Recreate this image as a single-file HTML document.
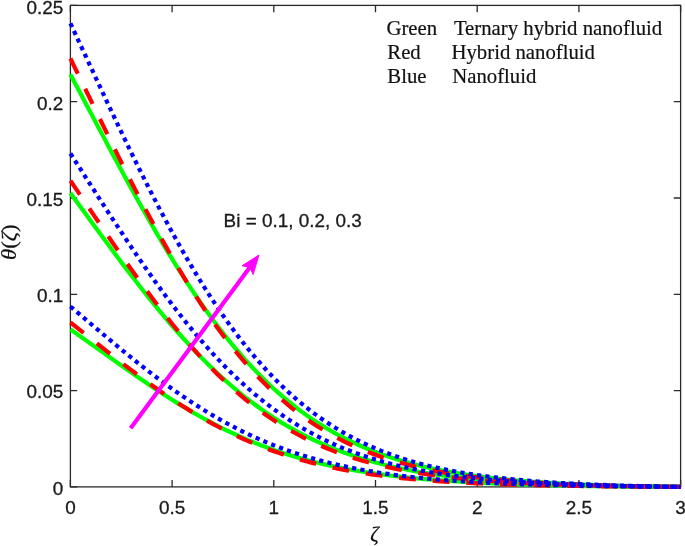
<!DOCTYPE html>
<html><head><meta charset="utf-8"><title>Plot</title>
<style>
html,body{margin:0;padding:0;background:#fff;}
svg{display:block;}
.sans{font-family:"Liberation Sans",sans-serif;font-size:18.9px;fill:#1a1a1a;stroke:#1a1a1a;stroke-width:0.3px;}
.serif{font-family:"Liberation Serif",serif;font-size:20.75px;fill:#111;stroke:#111;stroke-width:0.2px;}
</style></head>
<body>
<svg width="685" height="546" viewBox="0 0 685 546">
<rect width="685" height="546" fill="#fff"/>
<g fill="none" stroke="#2a2a2a" stroke-width="1.3">
<rect x="70.4" y="5.4" width="610.2" height="481.5"/>
<path d="M70.40 486.9 v-6.8 M70.40 5.4 v6.8 M172.10 486.9 v-6.8 M172.10 5.4 v6.8 M273.80 486.9 v-6.8 M273.80 5.4 v6.8 M375.50 486.9 v-6.8 M375.50 5.4 v6.8 M477.20 486.9 v-6.8 M477.20 5.4 v6.8 M578.90 486.9 v-6.8 M578.90 5.4 v6.8 M680.60 486.9 v-6.8 M680.60 5.4 v6.8 M70.4 486.90 h6.8 M680.6 486.90 h-6.8 M70.4 390.60 h6.8 M680.6 390.60 h-6.8 M70.4 294.30 h6.8 M680.6 294.30 h-6.8 M70.4 198.00 h6.8 M680.6 198.00 h-6.8 M70.4 101.70 h6.8 M680.6 101.70 h-6.8 M70.4 5.40 h6.8 M680.6 5.40 h-6.8"/>
</g>
<g fill="none" stroke-width="4.2" stroke-linejoin="round">
<path d="M70.40 329.50 L74.47 332.31 L78.54 335.14 L82.60 337.99 L86.67 340.86 L90.74 343.73 L94.81 346.62 L98.88 349.51 L102.94 352.41 L107.01 355.31 L111.08 358.21 L115.15 361.11 L119.22 364.00 L123.28 366.88 L127.35 369.74 L131.42 372.60 L135.49 375.43 L139.56 378.25 L143.62 381.04 L147.69 383.81 L151.76 386.56 L155.83 389.27 L159.90 391.96 L163.96 394.61 L168.03 397.23 L172.10 399.81 L176.17 402.36 L180.24 404.86 L184.30 407.33 L188.37 409.75 L192.44 412.13 L196.51 414.47 L200.58 416.76 L204.64 419.01 L208.71 421.21 L212.78 423.36 L216.85 425.46 L220.92 427.52 L224.98 429.53 L229.05 431.49 L233.12 433.40 L237.19 435.26 L241.26 437.08 L245.32 438.84 L249.39 440.56 L253.46 442.23 L257.53 443.86 L261.60 445.43 L265.66 446.96 L269.73 448.45 L273.80 449.88 L277.87 451.28 L281.94 452.63 L286.00 453.94 L290.07 455.20 L294.14 456.43 L298.21 457.61 L302.28 458.75 L306.34 459.86 L310.41 460.92 L314.48 461.95 L318.55 462.95 L322.62 463.90 L326.68 464.83 L330.75 465.72 L334.82 466.58 L338.89 467.41 L342.96 468.20 L347.02 468.97 L351.09 469.71 L355.16 470.42 L359.23 471.10 L363.30 471.76 L367.36 472.39 L371.43 473.00 L375.50 473.59 L379.57 474.15 L383.64 474.69 L387.70 475.21 L391.77 475.71 L395.84 476.19 L399.91 476.65 L403.98 477.10 L408.04 477.52 L412.11 477.93 L416.18 478.32 L420.25 478.70 L424.32 479.06 L428.38 479.41 L432.45 479.74 L436.52 480.07 L440.59 480.37 L444.66 480.67 L448.72 480.95 L452.79 481.22 L456.86 481.49 L460.93 481.74 L465.00 481.98 L469.06 482.21 L473.13 482.43 L477.20 482.65 L481.27 482.85 L485.34 483.05 L489.40 483.24 L493.47 483.42 L497.54 483.59 L501.61 483.76 L505.68 483.92 L509.74 484.07 L513.81 484.22 L517.88 484.36 L521.95 484.50 L526.02 484.63 L530.08 484.75 L534.15 484.87 L538.22 484.99 L542.29 485.10 L546.36 485.20 L550.42 485.30 L554.49 485.40 L558.56 485.49 L562.63 485.58 L566.70 485.66 L570.76 485.74 L574.83 485.82 L578.90 485.90 L582.97 485.97 L587.04 486.03 L591.10 486.10 L595.17 486.16 L599.24 486.22 L603.31 486.27 L607.38 486.32 L611.44 486.37 L615.51 486.42 L619.58 486.47 L623.65 486.51 L627.72 486.55 L631.78 486.59 L635.85 486.62 L639.92 486.66 L643.99 486.69 L648.06 486.72 L652.12 486.75 L656.19 486.77 L660.26 486.80 L664.33 486.82 L668.40 486.84 L672.46 486.86 L676.53 486.88 L680.60 486.90" stroke="#00ff00"/>
<path d="M70.40 193.10 L74.47 198.66 L78.54 204.22 L82.60 209.79 L86.67 215.36 L90.74 220.93 L94.81 226.49 L98.88 232.04 L102.94 237.58 L107.01 243.09 L111.08 248.59 L115.15 254.05 L119.22 259.48 L123.28 264.88 L127.35 270.24 L131.42 275.56 L135.49 280.84 L139.56 286.06 L143.62 291.24 L147.69 296.36 L151.76 301.42 L155.83 306.42 L159.90 311.36 L163.96 316.23 L168.03 321.03 L172.10 325.76 L176.17 330.42 L180.24 335.01 L184.30 339.52 L188.37 343.95 L192.44 348.31 L196.51 352.58 L200.58 356.77 L204.64 360.88 L208.71 364.90 L212.78 368.84 L216.85 372.70 L220.92 376.47 L224.98 380.15 L229.05 383.75 L233.12 387.26 L237.19 390.69 L241.26 394.03 L245.32 397.28 L249.39 400.45 L253.46 403.54 L257.53 406.54 L261.60 409.46 L265.66 412.30 L269.73 415.05 L273.80 417.73 L277.87 420.33 L281.94 422.84 L286.00 425.29 L290.07 427.65 L294.14 429.94 L298.21 432.16 L302.28 434.31 L306.34 436.39 L310.41 438.40 L314.48 440.34 L318.55 442.21 L322.62 444.02 L326.68 445.77 L330.75 447.46 L334.82 449.08 L338.89 450.65 L342.96 452.16 L347.02 453.62 L351.09 455.02 L355.16 456.37 L359.23 457.67 L363.30 458.93 L367.36 460.13 L371.43 461.29 L375.50 462.40 L379.57 463.47 L383.64 464.50 L387.70 465.49 L391.77 466.43 L395.84 467.35 L399.91 468.22 L403.98 469.06 L408.04 469.86 L412.11 470.63 L416.18 471.37 L420.25 472.08 L424.32 472.76 L428.38 473.42 L432.45 474.04 L436.52 474.64 L440.59 475.21 L444.66 475.76 L448.72 476.29 L452.79 476.79 L456.86 477.27 L460.93 477.74 L465.00 478.18 L469.06 478.60 L473.13 479.00 L477.20 479.39 L481.27 479.76 L485.34 480.12 L489.40 480.45 L493.47 480.78 L497.54 481.09 L501.61 481.38 L505.68 481.67 L509.74 481.94 L513.81 482.20 L517.88 482.44 L521.95 482.68 L526.02 482.91 L530.08 483.12 L534.15 483.33 L538.22 483.52 L542.29 483.71 L546.36 483.89 L550.42 484.06 L554.49 484.23 L558.56 484.39 L562.63 484.54 L566.70 484.68 L570.76 484.82 L574.83 484.95 L578.90 485.07 L582.97 485.19 L587.04 485.31 L591.10 485.42 L595.17 485.52 L599.24 485.62 L603.31 485.71 L607.38 485.81 L611.44 485.89 L615.51 485.98 L619.58 486.05 L623.65 486.13 L627.72 486.20 L631.78 486.27 L635.85 486.34 L639.92 486.40 L643.99 486.46 L648.06 486.52 L652.12 486.58 L656.19 486.63 L660.26 486.68 L664.33 486.73 L668.40 486.77 L672.46 486.82 L676.53 486.86 L680.60 486.90" stroke="#00ff00"/>
<path d="M70.40 74.60 L74.47 82.22 L78.54 89.86 L82.60 97.53 L86.67 105.20 L90.74 112.88 L94.81 120.55 L98.88 128.23 L102.94 135.89 L107.01 143.53 L111.08 151.15 L115.15 158.74 L119.22 166.29 L123.28 173.80 L127.35 181.27 L131.42 188.69 L135.49 196.05 L139.56 203.34 L143.62 210.58 L147.69 217.74 L151.76 224.82 L155.83 231.83 L159.90 238.75 L163.96 245.58 L168.03 252.33 L172.10 258.97 L176.17 265.52 L180.24 271.97 L184.30 278.31 L188.37 284.55 L192.44 290.68 L196.51 296.70 L200.58 302.60 L204.64 308.39 L208.71 314.07 L212.78 319.62 L216.85 325.06 L220.92 330.38 L224.98 335.58 L229.05 340.66 L233.12 345.62 L237.19 350.46 L241.26 355.18 L245.32 359.78 L249.39 364.26 L253.46 368.62 L257.53 372.86 L261.60 376.99 L265.66 381.00 L269.73 384.90 L273.80 388.68 L277.87 392.36 L281.94 395.92 L286.00 399.37 L290.07 402.72 L294.14 405.96 L298.21 409.10 L302.28 412.14 L306.34 415.08 L310.41 417.92 L314.48 420.67 L318.55 423.32 L322.62 425.89 L326.68 428.36 L330.75 430.75 L334.82 433.05 L338.89 435.27 L342.96 437.42 L347.02 439.48 L351.09 441.47 L355.16 443.38 L359.23 445.23 L363.30 447.00 L367.36 448.71 L371.43 450.35 L375.50 451.93 L379.57 453.45 L383.64 454.91 L387.70 456.31 L391.77 457.66 L395.84 458.96 L399.91 460.20 L403.98 461.39 L408.04 462.54 L412.11 463.63 L416.18 464.69 L420.25 465.70 L424.32 466.67 L428.38 467.60 L432.45 468.49 L436.52 469.35 L440.59 470.17 L444.66 470.95 L448.72 471.70 L452.79 472.42 L456.86 473.11 L460.93 473.77 L465.00 474.41 L469.06 475.01 L473.13 475.59 L477.20 476.15 L481.27 476.68 L485.34 477.19 L489.40 477.68 L493.47 478.14 L497.54 478.59 L501.61 479.01 L505.68 479.42 L509.74 479.81 L513.81 480.18 L517.88 480.54 L521.95 480.88 L526.02 481.21 L530.08 481.52 L534.15 481.82 L538.22 482.10 L542.29 482.37 L546.36 482.63 L550.42 482.88 L554.49 483.12 L558.56 483.35 L562.63 483.56 L566.70 483.77 L570.76 483.97 L574.83 484.16 L578.90 484.34 L582.97 484.51 L587.04 484.67 L591.10 484.83 L595.17 484.98 L599.24 485.12 L603.31 485.26 L607.38 485.39 L611.44 485.51 L615.51 485.63 L619.58 485.74 L623.65 485.85 L627.72 485.95 L631.78 486.04 L635.85 486.14 L639.92 486.22 L643.99 486.31 L648.06 486.39 L652.12 486.46 L656.19 486.54 L660.26 486.60 L664.33 486.67 L668.40 486.73 L672.46 486.79 L676.53 486.85 L680.60 486.90" stroke="#00ff00"/>
<path d="M70.40 322.50 L74.47 325.70 L78.54 328.90 L82.60 332.12 L86.67 335.33 L90.74 338.55 L94.81 341.76 L98.88 344.97 L102.94 348.17 L107.01 351.36 L111.08 354.54 L115.15 357.70 L119.22 360.85 L123.28 363.98 L127.35 367.08 L131.42 370.16 L135.49 373.22 L139.56 376.24 L143.62 379.24 L147.69 382.20 L151.76 385.12 L155.83 388.01 L159.90 390.86 L163.96 393.67 L168.03 396.44 L172.10 399.17 L176.17 401.85 L180.24 404.48 L184.30 407.07 L188.37 409.61 L192.44 412.11 L196.51 414.55 L200.58 416.94 L204.64 419.28 L208.71 421.57 L212.78 423.81 L216.85 426.00 L220.92 428.13 L224.98 430.21 L229.05 432.24 L233.12 434.22 L237.19 436.14 L241.26 438.01 L245.32 439.83 L249.39 441.60 L253.46 443.32 L257.53 444.98 L261.60 446.60 L265.66 448.17 L269.73 449.69 L273.80 451.16 L277.87 452.58 L281.94 453.96 L286.00 455.29 L290.07 456.57 L294.14 457.82 L298.21 459.02 L302.28 460.17 L306.34 461.29 L310.41 462.37 L314.48 463.40 L318.55 464.40 L322.62 465.36 L326.68 466.29 L330.75 467.18 L334.82 468.04 L338.89 468.86 L342.96 469.65 L347.02 470.41 L351.09 471.14 L355.16 471.84 L359.23 472.51 L363.30 473.16 L367.36 473.77 L371.43 474.37 L375.50 474.94 L379.57 475.48 L383.64 476.00 L387.70 476.50 L391.77 476.98 L395.84 477.44 L399.91 477.87 L403.98 478.29 L408.04 478.70 L412.11 479.08 L416.18 479.45 L420.25 479.80 L424.32 480.13 L428.38 480.45 L432.45 480.76 L436.52 481.05 L440.59 481.33 L444.66 481.60 L448.72 481.85 L452.79 482.10 L456.86 482.33 L460.93 482.55 L465.00 482.76 L469.06 482.97 L473.13 483.16 L477.20 483.35 L481.27 483.52 L485.34 483.69 L489.40 483.85 L493.47 484.01 L497.54 484.15 L501.61 484.29 L505.68 484.43 L509.74 484.55 L513.81 484.68 L517.88 484.79 L521.95 484.90 L526.02 485.01 L530.08 485.11 L534.15 485.21 L538.22 485.30 L542.29 485.39 L546.36 485.47 L550.42 485.55 L554.49 485.63 L558.56 485.70 L562.63 485.77 L566.70 485.84 L570.76 485.90 L574.83 485.97 L578.90 486.02 L582.97 486.08 L587.04 486.13 L591.10 486.19 L595.17 486.24 L599.24 486.28 L603.31 486.33 L607.38 486.37 L611.44 486.41 L615.51 486.45 L619.58 486.49 L623.65 486.52 L627.72 486.56 L631.78 486.59 L635.85 486.62 L639.92 486.66 L643.99 486.68 L648.06 486.71 L652.12 486.74 L656.19 486.77 L660.26 486.79 L664.33 486.81 L668.40 486.84 L672.46 486.86 L676.53 486.88 L680.60 486.90" stroke="#ff0000" stroke-dasharray="16.835 16.835"/>
<path d="M70.40 180.70 L74.47 186.66 L78.54 192.63 L82.60 198.62 L86.67 204.61 L90.74 210.61 L94.81 216.60 L98.88 222.59 L102.94 228.57 L107.01 234.52 L111.08 240.46 L115.15 246.37 L119.22 252.24 L123.28 258.08 L127.35 263.88 L131.42 269.63 L135.49 275.33 L139.56 280.98 L143.62 286.56 L147.69 292.09 L151.76 297.55 L155.83 302.94 L159.90 308.26 L163.96 313.50 L168.03 318.66 L172.10 323.74 L176.17 328.73 L180.24 333.64 L184.30 338.46 L188.37 343.19 L192.44 347.83 L196.51 352.37 L200.58 356.82 L204.64 361.17 L208.71 365.42 L212.78 369.58 L216.85 373.64 L220.92 377.60 L224.98 381.46 L229.05 385.22 L233.12 388.88 L237.19 392.45 L241.26 395.92 L245.32 399.29 L249.39 402.56 L253.46 405.74 L257.53 408.82 L261.60 411.81 L265.66 414.71 L269.73 417.52 L273.80 420.24 L277.87 422.87 L281.94 425.41 L286.00 427.87 L290.07 430.25 L294.14 432.54 L298.21 434.76 L302.28 436.89 L306.34 438.96 L310.41 440.94 L314.48 442.86 L318.55 444.71 L322.62 446.48 L326.68 448.19 L330.75 449.84 L334.82 451.42 L338.89 452.95 L342.96 454.41 L347.02 455.81 L351.09 457.17 L355.16 458.46 L359.23 459.71 L363.30 460.90 L367.36 462.05 L371.43 463.15 L375.50 464.21 L379.57 465.22 L383.64 466.19 L387.70 467.12 L391.77 468.01 L395.84 468.87 L399.91 469.68 L403.98 470.47 L408.04 471.22 L412.11 471.94 L416.18 472.62 L420.25 473.28 L424.32 473.91 L428.38 474.51 L432.45 475.09 L436.52 475.64 L440.59 476.17 L444.66 476.68 L448.72 477.16 L452.79 477.62 L456.86 478.06 L460.93 478.49 L465.00 478.89 L469.06 479.28 L473.13 479.65 L477.20 480.00 L481.27 480.34 L485.34 480.66 L489.40 480.97 L493.47 481.27 L497.54 481.55 L501.61 481.82 L505.68 482.08 L509.74 482.33 L513.81 482.56 L517.88 482.79 L521.95 483.01 L526.02 483.21 L530.08 483.41 L534.15 483.60 L538.22 483.78 L542.29 483.95 L546.36 484.12 L550.42 484.28 L554.49 484.43 L558.56 484.57 L562.63 484.71 L566.70 484.84 L570.76 484.97 L574.83 485.09 L578.90 485.21 L582.97 485.32 L587.04 485.42 L591.10 485.52 L595.17 485.62 L599.24 485.71 L603.31 485.80 L607.38 485.89 L611.44 485.97 L615.51 486.04 L619.58 486.12 L623.65 486.19 L627.72 486.25 L631.78 486.32 L635.85 486.38 L639.92 486.44 L643.99 486.50 L648.06 486.55 L652.12 486.60 L656.19 486.65 L660.26 486.70 L664.33 486.74 L668.40 486.78 L672.46 486.82 L676.53 486.86 L680.60 486.90" stroke="#ff0000" stroke-dasharray="16.835 16.835"/>
<path d="M70.40 58.53 L74.47 66.84 L78.54 75.17 L82.60 83.51 L86.67 91.86 L90.74 100.20 L94.81 108.54 L98.88 116.87 L102.94 125.18 L107.01 133.46 L111.08 141.70 L115.15 149.91 L119.22 158.07 L123.28 166.18 L127.35 174.22 L131.42 182.21 L135.49 190.12 L139.56 197.96 L143.62 205.72 L147.69 213.39 L151.76 220.98 L155.83 228.46 L159.90 235.85 L163.96 243.13 L168.03 250.30 L172.10 257.37 L176.17 264.32 L180.24 271.15 L184.30 277.86 L188.37 284.44 L192.44 290.90 L196.51 297.24 L200.58 303.44 L204.64 309.51 L208.71 315.45 L212.78 321.26 L216.85 326.93 L220.92 332.47 L224.98 337.87 L229.05 343.14 L233.12 348.28 L237.19 353.28 L241.26 358.14 L245.32 362.87 L249.39 367.48 L253.46 371.94 L257.53 376.28 L261.60 380.50 L265.66 384.58 L269.73 388.54 L273.80 392.37 L277.87 396.09 L281.94 399.68 L286.00 403.16 L290.07 406.52 L294.14 409.77 L298.21 412.91 L302.28 415.94 L306.34 418.87 L310.41 421.69 L314.48 424.41 L318.55 427.03 L322.62 429.56 L326.68 431.99 L330.75 434.33 L334.82 436.59 L338.89 438.76 L342.96 440.84 L347.02 442.85 L351.09 444.77 L355.16 446.62 L359.23 448.40 L363.30 450.11 L367.36 451.74 L371.43 453.31 L375.50 454.82 L379.57 456.27 L383.64 457.65 L387.70 458.98 L391.77 460.25 L395.84 461.47 L399.91 462.64 L403.98 463.76 L408.04 464.83 L412.11 465.85 L416.18 466.84 L420.25 467.77 L424.32 468.67 L428.38 469.53 L432.45 470.35 L436.52 471.14 L440.59 471.89 L444.66 472.61 L448.72 473.30 L452.79 473.95 L456.86 474.58 L460.93 475.18 L465.00 475.75 L469.06 476.30 L473.13 476.82 L477.20 477.32 L481.27 477.80 L485.34 478.26 L489.40 478.69 L493.47 479.11 L497.54 479.51 L501.61 479.89 L505.68 480.25 L509.74 480.60 L513.81 480.93 L517.88 481.24 L521.95 481.54 L526.02 481.83 L530.08 482.11 L534.15 482.37 L538.22 482.62 L542.29 482.86 L546.36 483.09 L550.42 483.31 L554.49 483.52 L558.56 483.72 L562.63 483.91 L566.70 484.09 L570.76 484.26 L574.83 484.43 L578.90 484.59 L582.97 484.74 L587.04 484.88 L591.10 485.02 L595.17 485.15 L599.24 485.28 L603.31 485.40 L607.38 485.51 L611.44 485.62 L615.51 485.73 L619.58 485.83 L623.65 485.93 L627.72 486.02 L631.78 486.11 L635.85 486.19 L639.92 486.27 L643.99 486.35 L648.06 486.42 L652.12 486.49 L656.19 486.56 L660.26 486.62 L664.33 486.68 L668.40 486.74 L672.46 486.80 L676.53 486.85 L680.60 486.90" stroke="#ff0000" stroke-dasharray="16.835 16.835"/>
<path d="M70.40 306.48 L74.47 309.93 L78.54 313.39 L82.60 316.85 L86.67 320.31 L90.74 323.77 L94.81 327.23 L98.88 330.68 L102.94 334.12 L107.01 337.55 L111.08 340.96 L115.15 344.36 L119.22 347.73 L123.28 351.09 L127.35 354.42 L131.42 357.72 L135.49 360.99 L139.56 364.24 L143.62 367.45 L147.69 370.62 L151.76 373.76 L155.83 376.86 L159.90 379.92 L163.96 382.93 L168.03 385.91 L172.10 388.83 L176.17 391.71 L180.24 394.55 L184.30 397.33 L188.37 400.07 L192.44 402.75 L196.51 405.38 L200.58 407.96 L204.64 410.49 L208.71 412.96 L212.78 415.38 L216.85 417.75 L220.92 420.06 L224.98 422.32 L229.05 424.52 L233.12 426.67 L237.19 428.77 L241.26 430.81 L245.32 432.80 L249.39 434.73 L253.46 436.61 L257.53 438.44 L261.60 440.21 L265.66 441.94 L269.73 443.61 L273.80 445.23 L277.87 446.81 L281.94 448.33 L286.00 449.81 L290.07 451.24 L294.14 452.63 L298.21 453.97 L302.28 455.26 L306.34 456.51 L310.41 457.72 L314.48 458.89 L318.55 460.02 L322.62 461.11 L326.68 462.16 L330.75 463.17 L334.82 464.14 L338.89 465.08 L342.96 465.99 L347.02 466.86 L351.09 467.70 L355.16 468.51 L359.23 469.28 L363.30 470.03 L367.36 470.75 L371.43 471.44 L375.50 472.10 L379.57 472.74 L383.64 473.36 L387.70 473.94 L391.77 474.51 L395.84 475.05 L399.91 475.57 L403.98 476.07 L408.04 476.55 L412.11 477.01 L416.18 477.45 L420.25 477.87 L424.32 478.28 L428.38 478.67 L432.45 479.04 L436.52 479.40 L440.59 479.74 L444.66 480.07 L448.72 480.38 L452.79 480.68 L456.86 480.97 L460.93 481.25 L465.00 481.51 L469.06 481.76 L473.13 482.01 L477.20 482.24 L481.27 482.46 L485.34 482.67 L489.40 482.88 L493.47 483.07 L497.54 483.26 L501.61 483.44 L505.68 483.61 L509.74 483.77 L513.81 483.93 L517.88 484.08 L521.95 484.22 L526.02 484.36 L530.08 484.49 L534.15 484.62 L538.22 484.74 L542.29 484.86 L546.36 484.97 L550.42 485.07 L554.49 485.18 L558.56 485.27 L562.63 485.37 L566.70 485.46 L570.76 485.54 L574.83 485.63 L578.90 485.70 L582.97 485.78 L587.04 485.85 L591.10 485.92 L595.17 485.99 L599.24 486.05 L603.31 486.11 L607.38 486.17 L611.44 486.23 L615.51 486.28 L619.58 486.33 L623.65 486.38 L627.72 486.43 L631.78 486.48 L635.85 486.52 L639.92 486.56 L643.99 486.60 L648.06 486.64 L652.12 486.68 L656.19 486.71 L660.26 486.75 L664.33 486.78 L668.40 486.81 L672.46 486.84 L676.53 486.87 L680.60 486.90" stroke="#0000ff" stroke-dasharray="4.2187 4.2187"/>
<path d="M70.40 153.50 L74.47 159.81 L78.54 166.14 L82.60 172.47 L86.67 178.81 L90.74 185.14 L94.81 191.46 L98.88 197.78 L102.94 204.07 L107.01 210.35 L111.08 216.60 L115.15 222.82 L119.22 229.01 L123.28 235.15 L127.35 241.26 L131.42 247.32 L135.49 253.32 L139.56 259.28 L143.62 265.17 L147.69 271.00 L151.76 276.77 L155.83 282.47 L159.90 288.09 L163.96 293.64 L168.03 299.12 L172.10 304.51 L176.17 309.82 L180.24 315.04 L184.30 320.18 L188.37 325.23 L192.44 330.19 L196.51 335.06 L200.58 339.83 L204.64 344.51 L208.71 349.09 L212.78 353.58 L216.85 357.96 L220.92 362.25 L224.98 366.45 L229.05 370.54 L233.12 374.53 L237.19 378.43 L241.26 382.23 L245.32 385.93 L249.39 389.53 L253.46 393.04 L257.53 396.45 L261.60 399.76 L265.66 402.98 L269.73 406.11 L273.80 409.14 L277.87 412.09 L281.94 414.94 L286.00 417.71 L290.07 420.39 L294.14 422.98 L298.21 425.50 L302.28 427.92 L306.34 430.27 L310.41 432.54 L314.48 434.73 L318.55 436.85 L322.62 438.89 L326.68 440.87 L330.75 442.77 L334.82 444.60 L338.89 446.37 L342.96 448.07 L347.02 449.71 L351.09 451.29 L355.16 452.81 L359.23 454.27 L363.30 455.67 L367.36 457.02 L371.43 458.32 L375.50 459.57 L379.57 460.77 L383.64 461.92 L387.70 463.02 L391.77 464.09 L395.84 465.10 L399.91 466.08 L403.98 467.02 L408.04 467.91 L412.11 468.78 L416.18 469.60 L420.25 470.39 L424.32 471.15 L428.38 471.88 L432.45 472.57 L436.52 473.24 L440.59 473.87 L444.66 474.48 L448.72 475.07 L452.79 475.63 L456.86 476.16 L460.93 476.68 L465.00 477.17 L469.06 477.63 L473.13 478.08 L477.20 478.51 L481.27 478.92 L485.34 479.31 L489.40 479.69 L493.47 480.05 L497.54 480.39 L501.61 480.72 L505.68 481.03 L509.74 481.33 L513.81 481.62 L517.88 481.89 L521.95 482.15 L526.02 482.40 L530.08 482.64 L534.15 482.87 L538.22 483.09 L542.29 483.30 L546.36 483.50 L550.42 483.69 L554.49 483.87 L558.56 484.05 L562.63 484.21 L566.70 484.37 L570.76 484.53 L574.83 484.67 L578.90 484.81 L582.97 484.95 L587.04 485.07 L591.10 485.20 L595.17 485.31 L599.24 485.43 L603.31 485.53 L607.38 485.64 L611.44 485.73 L615.51 485.83 L619.58 485.92 L623.65 486.01 L627.72 486.09 L631.78 486.17 L635.85 486.24 L639.92 486.32 L643.99 486.39 L648.06 486.45 L652.12 486.52 L656.19 486.58 L660.26 486.64 L664.33 486.69 L668.40 486.75 L672.46 486.80 L676.53 486.85 L680.60 486.90" stroke="#0000ff" stroke-dasharray="4.2184 4.2184"/>
<path d="M70.40 23.34 L74.47 32.05 L78.54 40.78 L82.60 49.52 L86.67 58.27 L90.74 67.01 L94.81 75.74 L98.88 84.46 L102.94 93.16 L107.01 101.83 L111.08 110.47 L115.15 119.07 L119.22 127.62 L123.28 136.12 L127.35 144.57 L131.42 152.95 L135.49 161.26 L139.56 169.50 L143.62 177.66 L147.69 185.74 L151.76 193.73 L155.83 201.62 L159.90 209.42 L163.96 217.12 L168.03 224.71 L172.10 232.19 L176.17 239.56 L180.24 246.81 L184.30 253.95 L188.37 260.96 L192.44 267.85 L196.51 274.62 L200.58 281.25 L204.64 287.76 L208.71 294.13 L212.78 300.37 L216.85 306.48 L220.92 312.46 L224.98 318.29 L229.05 324.00 L233.12 329.56 L237.19 335.00 L241.26 340.29 L245.32 345.45 L249.39 350.48 L253.46 355.37 L257.53 360.13 L261.60 364.76 L265.66 369.26 L269.73 373.63 L273.80 377.87 L277.87 381.98 L281.94 385.98 L286.00 389.84 L290.07 393.59 L294.14 397.22 L298.21 400.74 L302.28 404.14 L306.34 407.42 L310.41 410.60 L314.48 413.67 L318.55 416.64 L322.62 419.50 L326.68 422.26 L330.75 424.93 L334.82 427.49 L338.89 429.97 L342.96 432.36 L347.02 434.66 L351.09 436.87 L355.16 439.00 L359.23 441.05 L363.30 443.02 L367.36 444.91 L371.43 446.74 L375.50 448.49 L379.57 450.17 L383.64 451.78 L387.70 453.33 L391.77 454.82 L395.84 456.25 L399.91 457.62 L403.98 458.93 L408.04 460.20 L412.11 461.40 L416.18 462.56 L420.25 463.67 L424.32 464.74 L428.38 465.75 L432.45 466.73 L436.52 467.66 L440.59 468.56 L444.66 469.42 L448.72 470.24 L452.79 471.02 L456.86 471.77 L460.93 472.49 L465.00 473.18 L469.06 473.84 L473.13 474.46 L477.20 475.07 L481.27 475.64 L485.34 476.19 L489.40 476.72 L493.47 477.22 L497.54 477.70 L501.61 478.16 L505.68 478.60 L509.74 479.02 L513.81 479.43 L517.88 479.81 L521.95 480.18 L526.02 480.53 L530.08 480.87 L534.15 481.19 L538.22 481.49 L542.29 481.79 L546.36 482.07 L550.42 482.34 L554.49 482.60 L558.56 482.84 L562.63 483.08 L566.70 483.30 L570.76 483.52 L574.83 483.72 L578.90 483.92 L582.97 484.11 L587.04 484.29 L591.10 484.46 L595.17 484.63 L599.24 484.79 L603.31 484.94 L607.38 485.09 L611.44 485.23 L615.51 485.36 L619.58 485.49 L623.65 485.61 L627.72 485.73 L631.78 485.84 L635.85 485.95 L639.92 486.06 L643.99 486.16 L648.06 486.25 L652.12 486.34 L656.19 486.43 L660.26 486.52 L664.33 486.60 L668.40 486.68 L672.46 486.76 L676.53 486.83 L680.60 486.90" stroke="#0000ff" stroke-dasharray="4.2129 4.2129"/>
</g>
<g class="sans">
<text x="70.4" y="514.3" text-anchor="middle">0</text>
<text x="172.1" y="514.3" text-anchor="middle">0.5</text>
<text x="273.8" y="514.3" text-anchor="middle">1</text>
<text x="375.5" y="514.3" text-anchor="middle">1.5</text>
<text x="477.2" y="514.3" text-anchor="middle">2</text>
<text x="578.9" y="514.3" text-anchor="middle">2.5</text>
<text x="680.6" y="514.3" text-anchor="middle">3</text>
<text x="63.2" y="495.2" text-anchor="end">0</text>
<text x="63.2" y="398.1" text-anchor="end">0.05</text>
<text x="63.2" y="301.5" text-anchor="end">0.1</text>
<text x="63.2" y="205.8" text-anchor="end">0.15</text>
<text x="63.2" y="109.9" text-anchor="end">0.2</text>
<text x="63.2" y="13.5" text-anchor="end">0.25</text>
<text x="223.6" y="227.1">Bi = 0.1, 0.2, 0.3</text>
</g>
<g class="serif">
<text x="386.4" y="34.7">Green</text><text x="453.9" y="34.7">Ternary hybrid nanofluid</text>
<text x="387.3" y="58.9">Red</text><text x="451.5" y="58.9">Hybrid nanofluid</text>
<text x="387.3" y="83.4">Blue</text><text x="452.2" y="83.4">Nanofluid</text>
<text transform="translate(16.3 260) rotate(-90) scale(1.14 1)" font-size="20px"><tspan font-style="italic">θ</tspan>(<tspan font-style="italic">ζ</tspan>)</text>
<text x="374.5" y="540.5" text-anchor="middle" font-style="italic" font-size="21px">ζ</text>
</g>
<g fill="#ff00ff" stroke="#ff00ff">
<line x1="130.6" y1="428.3" x2="251" y2="265.8" stroke-width="4.2"/>
<polygon points="259,255 242,265.8 250,267.2 253.1,274.6" stroke-width="1" stroke-linejoin="round"/>
</g>
</svg>
</body></html>
